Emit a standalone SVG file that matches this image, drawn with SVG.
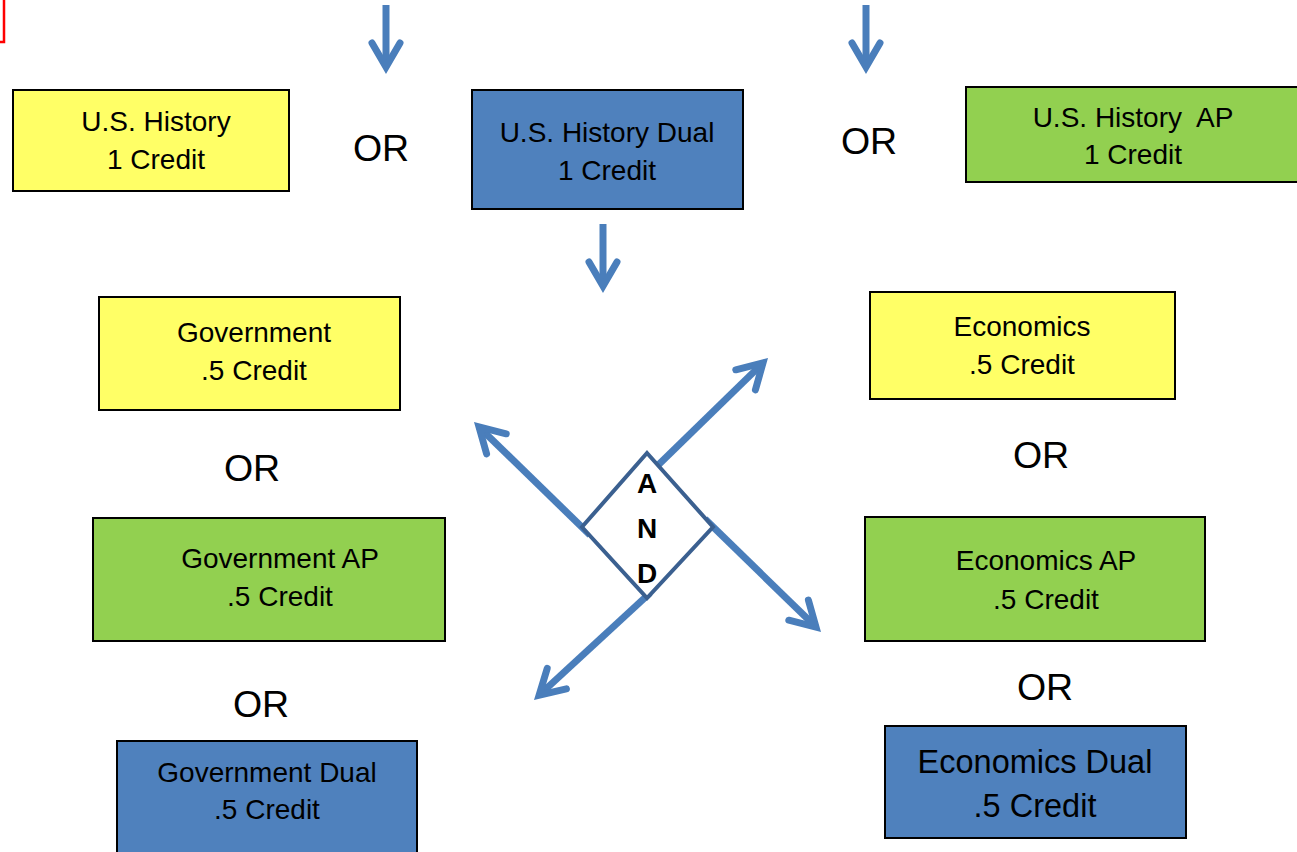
<svg xmlns="http://www.w3.org/2000/svg" width="1297" height="852" viewBox="0 0 1297 852">
<style>
.box{stroke:#000;stroke-width:2}
.y{fill:#ffff66}.b{fill:#4f81bd}.g{fill:#92d050}
.t{font-family:"Liberation Sans",Arial,sans-serif;font-size:28px;fill:#000;text-anchor:middle}
.big{font-size:32.5px}
.or{font-family:"Liberation Sans",Arial,sans-serif;font-size:37.5px;fill:#000;text-anchor:middle}
.and{font-family:"Liberation Sans",Arial,sans-serif;font-size:28px;font-weight:bold;fill:#000;text-anchor:middle}
.sh{stroke:#4a7ebb;stroke-width:7;fill:none}
.hd{stroke:#4a7ebb;stroke-width:7;fill:none;stroke-linecap:round;stroke-linejoin:miter;stroke-miterlimit:10}
</style>
<rect width="1297" height="852" fill="#fff"/>
<path d="M4,0 V42 H0" fill="none" stroke="#ff0000" stroke-width="2.5"/>
<g id="connectors">
<line class="sh" x1="386" y1="5" x2="386" y2="67"/>
<polyline class="hd" points="372,43 386,67 400,43"/>
<line class="sh" x1="866" y1="5" x2="866" y2="67"/>
<polyline class="hd" points="852,43 866,67 880,43"/>
<line class="sh" x1="603" y1="224" x2="603" y2="286"/>
<polyline class="hd" points="589,262 603,286 617,262"/>
<line class="sh" x1="590" y1="535" x2="479" y2="426.9"/>
<polyline class="hd" points="486.6,453.9 479,426.9 506.2,433.8"/>
<line class="sh" x1="650" y1="473" x2="763" y2="362.9"/>
<polyline class="hd" points="735.8,369.8 763,362.9 755.4,389.9"/>
<line class="sh" x1="705" y1="519" x2="816" y2="627.1"/>
<polyline class="hd" points="808.4,600.1 816,627.1 788.8,620.2"/>
<line class="sh" x1="650" y1="593" x2="539.1" y2="695.2"/>
<polyline class="hd" points="566.4,688.8 539.1,695.2 547.2,668.4"/>
</g>
<g id="and">
<polygon points="647,453 713,527 647,598 582,527" fill="#fff" stroke="#3b6090" stroke-width="4"/>
<text class="and" x="647" y="493">A</text>
<text class="and" x="647" y="538">N</text>
<text class="and" x="647" y="583">D</text>
</g>
<g id="ush"><rect class="box y" x="13" y="90" width="276" height="101"/><text class="t" x="156" y="131">U.S. History</text><text class="t" x="156" y="169">1 Credit</text></g>
<g id="ushdual"><rect class="box b" x="472" y="90" width="271" height="119"/><text class="t" x="607" y="142">U.S. History Dual</text><text class="t" x="607" y="180">1 Credit</text></g>
<g id="ushap"><rect class="box g" x="966" y="87" width="333" height="95"/><text class="t" x="1133" y="127" xml:space="preserve">U.S. History  AP</text><text class="t" x="1133" y="164">1 Credit</text></g>
<g id="gov"><rect class="box y" x="99" y="297" width="301" height="113"/><text class="t" x="254" y="342">Government</text><text class="t" x="254" y="380">.5 Credit</text></g>
<g id="govap"><rect class="box g" x="93" y="518" width="352" height="123"/><text class="t" x="280" y="568">Government AP</text><text class="t" x="280" y="606">.5 Credit</text></g>
<g id="govdual"><rect class="box b" x="117" y="741" width="300" height="120"/><text class="t" x="267" y="782">Government Dual</text><text class="t" x="267" y="819">.5 Credit</text></g>
<g id="eco"><rect class="box y" x="870" y="292" width="305" height="107"/><text class="t" x="1022" y="336">Economics</text><text class="t" x="1022" y="374">.5 Credit</text></g>
<g id="ecoap"><rect class="box g" x="865" y="517" width="340" height="124"/><text class="t" x="1046" y="570">Economics AP</text><text class="t" x="1046" y="609">.5 Credit</text></g>
<g id="ecodual"><rect class="box b" x="885" y="726" width="301" height="112"/><text class="t big" x="1035" y="773">Economics Dual</text><text class="t big" x="1035" y="817">.5 Credit</text></g>
<g id="ors">
<text class="or" x="381" y="161">OR</text>
<text class="or" x="869" y="154">OR</text>
<text class="or" x="252" y="481">OR</text>
<text class="or" x="1041" y="468">OR</text>
<text class="or" x="261" y="717">OR</text>
<text class="or" x="1045" y="700">OR</text>
</g>
</svg>
